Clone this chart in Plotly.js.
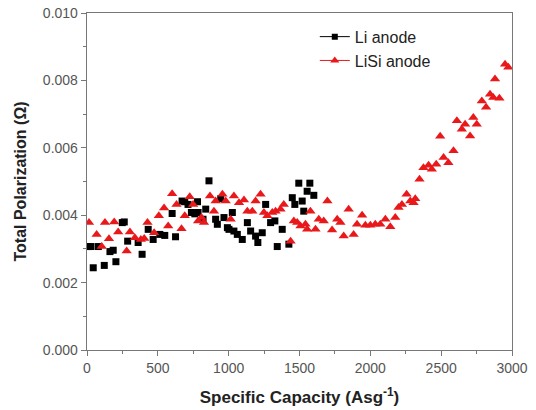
<!DOCTYPE html>
<html><head><meta charset="utf-8">
<script src="https://cdn.plot.ly/plotly-3.0.1.min.js"></script>
<style>html,body{margin:0;padding:0;background:#fff}#chart{width:536px;height:410px}</style>
</head><body><div id="chart"></div>
<script>
const liX = [7,28,44,80,122,162,185,204,249,263,287,361,389,432,467,514,549,601,625,671,690,713,737,761,780,784,819,838,861,908,920,944,967,991,1002,1026,1037,1061,1096,1132,1155,1190,1206,1237,1261,1296,1326,1343,1378,1425,1449,1467,1495,1519,1530,1554,1573,1601];
const liY = [3.07,3.07,2.44,3.07,2.51,2.92,2.96,2.62,3.78,3.80,3.23,3.19,2.84,3.58,3.28,3.43,3.40,4.05,3.36,4.42,4.40,4.32,4.08,4.04,4.40,4.08,3.88,4.18,5.02,3.88,3.73,4.49,3.93,3.63,3.58,4.08,3.53,3.43,3.28,3.78,3.53,3.38,3.19,3.48,4.32,3.78,3.83,3.07,3.58,3.14,4.52,4.32,4.95,4.42,4.12,4.71,4.95,4.59];
const lisiX = [14,68,104,127,155,192,220,280,303,338,380,404,427,474,507,544,573,601,632,667,690,725,749,784,808,826,868,896,908,956,979,1014,1037,1073,1108,1132,1167,1190,1225,1249,1273,1308,1331,1366,1389,1437,1460,1484,1507,1542,1554,1577,1613,1636,1671,1697,1730,1766,1789,1812,1847,1882,1906,1942,1965,2000,2035,2070,2106,2141,2176,2199,2223,2256,2282,2305,2317,2347,2375,2411,2434,2465,2493,2517,2551,2587,2611,2646,2669,2704,2727,2751,2787,2817,2845,2868,2880,2911,2951,2974];
const lisiY = [3.78,3.43,3.07,3.78,3.30,3.80,3.50,2.94,3.50,3.33,3.28,3.31,3.78,3.48,3.98,4.21,3.68,4.64,4.32,3.60,3.98,4.55,4.32,3.83,3.93,3.78,4.57,4.12,4.42,4.62,4.42,3.88,4.57,4.37,4.45,4.12,4.12,4.42,4.62,4.08,3.98,4.08,4.12,4.18,4.32,3.23,3.83,3.78,3.68,3.73,3.58,4.12,3.58,3.88,3.83,4.42,3.56,3.88,3.78,3.38,4.18,3.43,3.73,4.00,3.70,3.70,3.73,3.73,3.88,3.66,3.93,4.23,4.32,4.62,4.42,4.37,4.49,5.07,5.41,5.48,5.36,5.51,6.34,5.71,5.56,5.91,6.80,6.55,6.70,6.35,6.90,6.70,7.39,7.20,7.59,7.49,8.04,7.47,8.48,8.39];
const seriesNames = ['Li anode', 'LiSi anode'];
const yTickVals = [0, 0.002, 0.004, 0.006, 0.008, 0.010];
const yTickText = ['0.000', '0.002', '0.004', '0.006', '0.008', '0.010'];
const xTickVals = [0, 500, 1000, 1500, 2000, 2500, 3000];

const toOhm = a => a.map(v => v / 1000);
const traces = [
  {x: liX, y: toOhm(liY), mode: 'markers', type: 'scatter', showlegend: false,
   marker: {symbol: 'square', size: 7, color: '#000'}},
  {x: lisiX, y: toOhm(lisiY), mode: 'markers', type: 'scatter', showlegend: false,
   marker: {symbol: 'triangle-up', size: 9, color: '#e8181b'}},
  {x: [null], y: [null], mode: 'lines+markers', type: 'scatter', name: seriesNames[0],
   line: {color: '#000', width: 1}, marker: {symbol: 'square', size: 6, color: '#000'}},
  {x: [null], y: [null], mode: 'lines+markers', type: 'scatter', name: seriesNames[1],
   line: {color: '#e8181b', width: 1}, marker: {symbol: 'triangle-up', size: 8, color: '#e8181b'}}
];
const axisCommon = {
  showline: true, linecolor: '#777', linewidth: 1.3, mirror: true,
  ticks: 'outside', ticklen: 5, tickcolor: '#777', tickwidth: 1,
  showgrid: false, zeroline: false,
  tickfont: {family: 'Liberation Sans, Arial, sans-serif', size: 14, color: '#555'}
};
const layout = {
  width: 536, height: 410,
  margin: {l: 87, r: 24, t: 13, b: 60},
  paper_bgcolor: '#fff', plot_bgcolor: '#fff',
  xaxis: Object.assign({}, axisCommon, {
    range: [0, 3000], tickvals: xTickVals,
    minor: {dtick: 250, ticks: 'outside', ticklen: 3, tickcolor: '#777'},
    title: {text: 'Specific Capacity (Asg<sup>-1</sup>)', standoff: 16,
      font: {family: 'Liberation Sans, Arial, sans-serif', size: 17, color: '#222', weight: 'bold'}}
  }),
  yaxis: Object.assign({}, axisCommon, {
    range: [0, 0.010], tickvals: yTickVals, ticktext: yTickText,
    minor: {dtick: 0.001, ticks: 'outside', ticklen: 3, tickcolor: '#777'},
    title: {text: 'Total Polarization (Ω)', standoff: 12,
      font: {family: 'Liberation Sans, Arial, sans-serif', size: 16, color: '#222', weight: 'bold'}}
  }),
  legend: {x: 0.536, y: 0.98, xanchor: 'left', yanchor: 'top', bgcolor: 'rgba(0,0,0,0)',
    tracegroupgap: 0, itemsizing: 'trace',
    font: {family: 'Liberation Sans, Arial, sans-serif', size: 16, color: '#222'}},
  showlegend: true
};
Plotly.newPlot('chart', traces, layout, {displayModeBar: false, staticPlot: true});
</script></body></html>
